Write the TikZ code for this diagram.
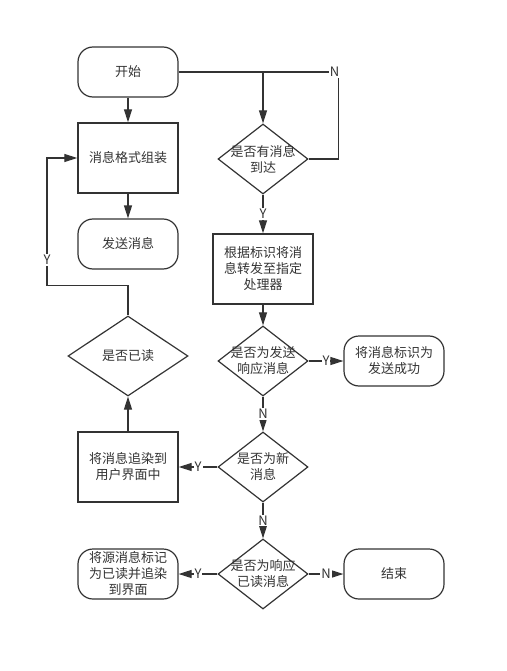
\documentclass[tikz,border=0pt]{standalone}
\usepackage{fontspec}
\setmainfont{Noto Sans CJK SC}
\usepackage{tikz}
\usetikzlibrary{positioning}
\usetikzlibrary{arrows.meta,shapes.geometric}

\begin{document}
\begin{tikzpicture}[x=1pt,y=-1pt,
  every node/.style={text=black!80,font=\fontsize{13}{16}\selectfont},
  box/.style={draw=black!80,line width=1.4pt,align=center,minimum width=100pt,minimum height=70pt,inner sep=2pt},
  term/.style={box,line width=1.2pt,rounded corners=15pt,minimum height=50pt},
  decision/.style={draw=black!80,line width=1.2pt,diamond,minimum width=90pt,minimum height=70pt,inner sep=0pt},
  yn/.style={fill=white,inner sep=1pt},
  line/.style={draw=black!80,line width=1.2pt},
  arr/.style={line,-{Triangle[length=13pt,width=8pt]}}]
  \useasboundingbox (0,0) rectangle (506,671);

  \node at (128,72) [term] (start) {开始};
  \node at (128,158) [box] (fmt) {消息格式组装};
  \node at (128,244) [term] (send) {发送消息};
  \node at (128,356) [decision,minimum width=120pt,minimum height=80pt,
    label={center:是否已读}] (read) {};

  \node at (263,159) [decision,label={[align=center]center:{是否有消息\\到达}}] (arrive) {};
  \node at (263,269) [box] (route) {
    根据标识将消\\息转发至指定\\处理器
  };
  \node at (263,361) [decision,label={[align=center]center:{是否为发送\\响应消息}}] (sendack) {};
  \node at (394,361) [term] (success) {
    将消息标识为\\发送成功
  };

  \node at (263,467) [decision,label={[align=center]center:{是否为新\\消息}}] (newmsg) {};
  \node at (128,467) [box] (render) {
    将消息追染到\\用户界面中
  };

  \node at (263,574) [decision,label={[align=center]center:{是否为响应\\已读消息}}] (readack) {};
  \node at (128,574) [term] (mark) {
    将源消息标记\\为已读并追染\\到界面
  };
  \node at (394,574) [term] (finish) {结束};

  % left column
  \draw[arr] (start) -- (fmt);
  \draw[arr] (fmt) -- (send);
  \draw[arr] (render) -- (read);
  \draw[arr] (read.north) -- ++(0,-30) -- ++(-81,0) |- node[yn,pos=0.1] {Y} (fmt.west);

  % right column
  \draw[arr] (start.east) -| (arrive.north);
  \draw[line] (arrive.east) -- ++(30,0) |- node[yn,pos=0.5,xshift=-4pt] {N} (start.east);
  \draw[arr] (arrive) -- node[yn] {Y} (route);
  \draw[arr] (route) -- (sendack);
  \draw[arr] (sendack) -- node[yn] {Y} (success);
  \draw[arr] (sendack) -- node[yn] {N} (newmsg);
  \draw[arr] (newmsg) -- node[yn] {Y} (render);
  \draw[arr] (newmsg) -- node[yn] {N} (readack);
  \draw[arr] (readack) -- node[yn] {Y} (mark);
  \draw[arr] (readack) -- node[yn] {N} (finish);
\end{tikzpicture}
\end{document}
